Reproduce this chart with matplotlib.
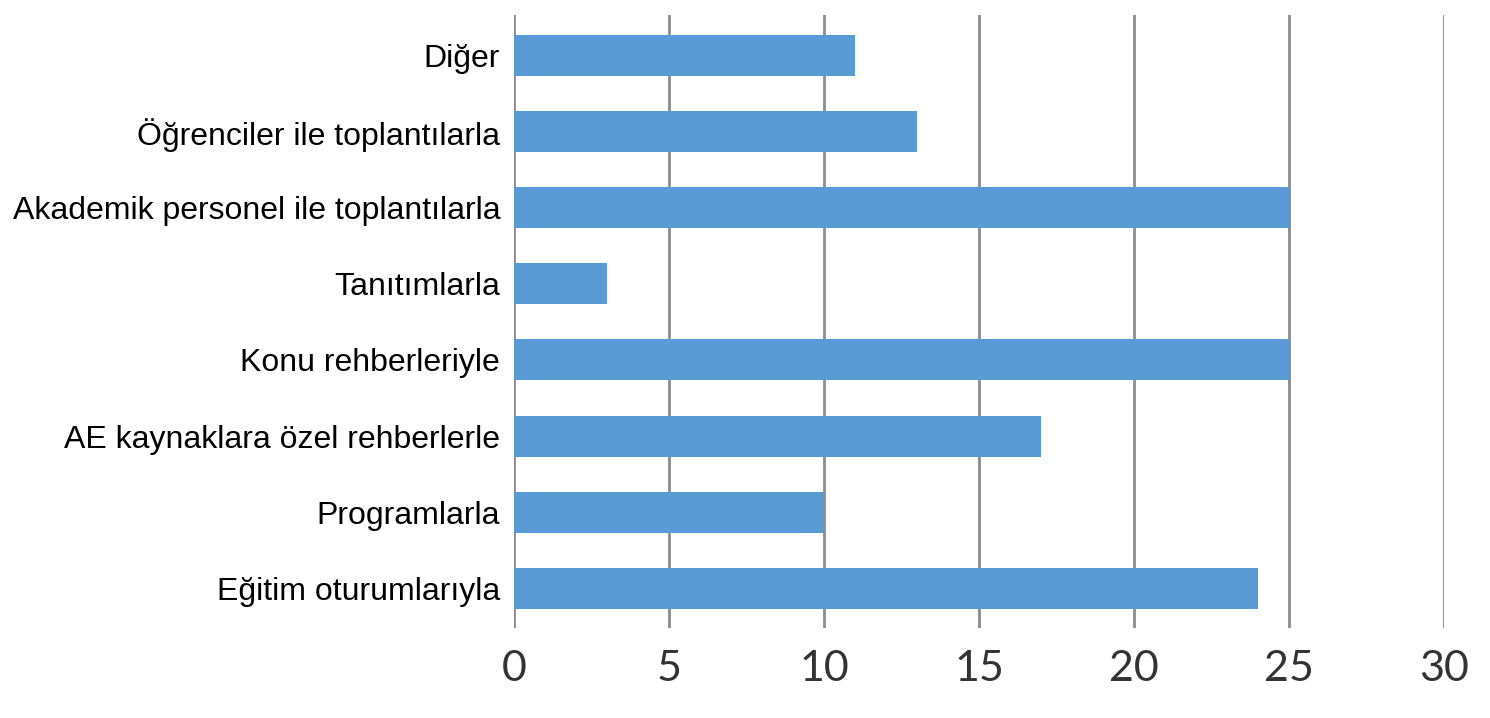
import matplotlib
matplotlib.use("Agg")
import matplotlib.pyplot as plt

categories = ["Eğitim oturumlarıyla", "Programlarla", "AE kaynaklara özel rehberlerle",
              "Konu rehberleriyle", "Tanıtımlarla", "Akademik personel ile toplantılarla",
              "Öğrenciler ile toplantılarla", "Diğer"]
values = [24, 10, 17, 25, 3, 25, 13, 11]
xticks = [0, 5, 10, 15, 20, 25, 30]

fig = plt.figure(figsize=(14.9, 7.18), dpi=100)
ax = fig.add_axes([0.345, 0.1253, 0.624, 0.854])
ax.set_xlim(0, 30)
ax.set_ylim(-0.52, 7.53)
for x in xticks:
    ax.axvline(x, color="#8c8c8c", lw=2, zorder=1)
ax.barh(range(len(categories)), values, height=0.54, color="#5B9BD5", zorder=2)
ax.set_yticks(range(len(categories)))
ax.set_yticklabels(categories, fontsize=23, family="Liberation Sans", color="#000000")
ax.set_xticks(xticks)
ax.set_xticklabels([str(v) for v in xticks], fontsize=31, family="Lato", color="#333333")
ax.tick_params(axis="y", length=0, pad=10)
ax.tick_params(axis="x", length=0, pad=16)
for s in ax.spines.values():
    s.set_visible(False)
fig.savefig("out.png", dpi=100)
